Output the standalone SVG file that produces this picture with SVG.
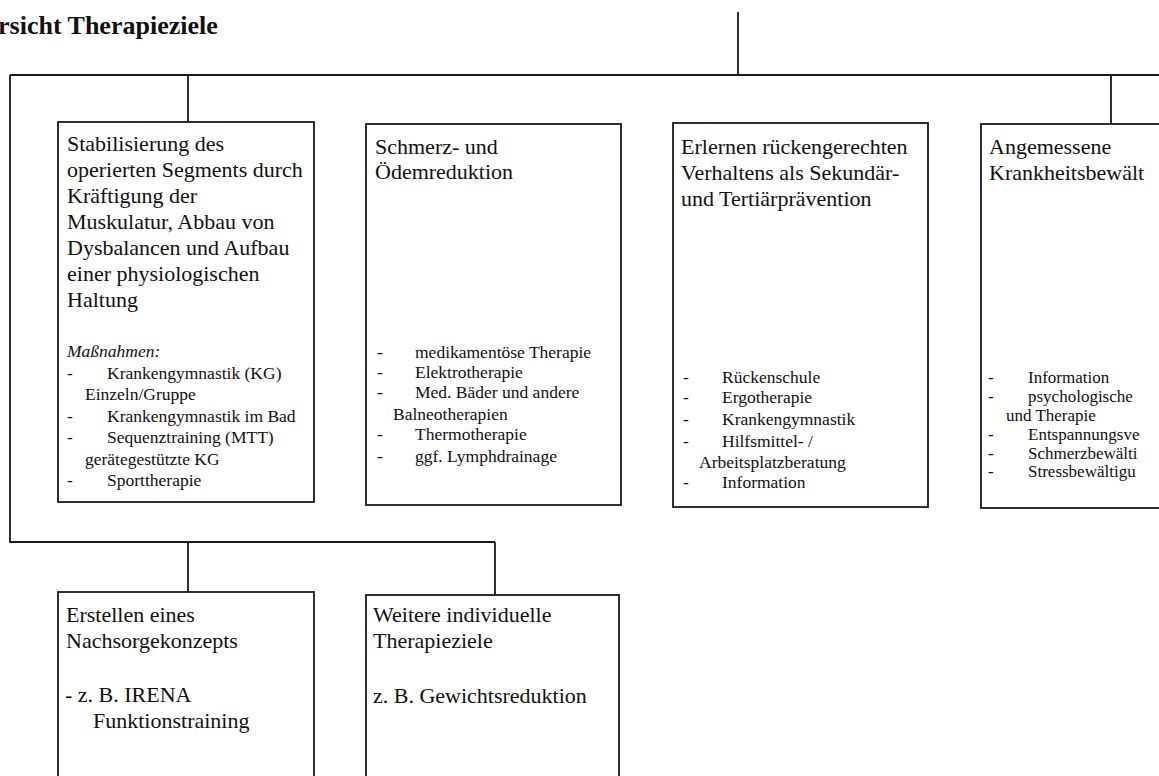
<svg xmlns="http://www.w3.org/2000/svg" width="1159" height="776" viewBox="0 0 1159 776">
<style>
.bg{fill:#fff}
.box{fill:#fff;stroke:#1a1a1a;stroke-width:1.8}
.ln{fill:none;stroke:#1a1a1a;stroke-width:1.8}
text{font-family:"Liberation Serif","Times New Roman",serif;fill:#111}
.title{font-size:26px;font-weight:bold}
.h{font-size:22px}
.i{font-size:17.5px}
.s{font-size:17px}
.it{font-size:17.5px;font-style:italic}
</style>
<rect class="bg" x="0" y="0" width="1159" height="776"/>
<text class="title" x="-2" y="34">rsicht Therapieziele</text>
<g id="connectors">
<path class="ln" d="M738 12 V75"/>
<path class="ln" d="M10 75 H1165"/>
<path class="ln" d="M10 75 V542 H495"/>
<path class="ln" d="M188 75 V122"/>
<path class="ln" d="M1111 75 V124"/>
<path class="ln" d="M188 542 V592"/>
<path class="ln" d="M495 542 V595"/>
</g>
<g id="node1">
<rect class="box" x="58" y="122" width="256" height="380"/>
<text class="h" x="67" y="151">Stabilisierung des</text>
<text class="h" x="67" y="177">operierten Segments durch</text>
<text class="h" x="67" y="203">Kräftigung der</text>
<text class="h" x="67" y="229">Muskulatur, Abbau von</text>
<text class="h" x="67" y="255">Dysbalancen und Aufbau</text>
<text class="h" x="67" y="281">einer physiologischen</text>
<text class="h" x="67" y="307">Haltung</text>
<text class="it" x="67" y="357">Maßnahmen:</text>
<text class="i" x="67" y="379">-</text><text class="i" x="107" y="379">Krankengymnastik (KG)</text>
<text class="i" x="85" y="400">Einzeln/Gruppe</text>
<text class="i" x="67" y="422">-</text><text class="i" x="107" y="422">Krankengymnastik im Bad</text>
<text class="i" x="67" y="443">-</text><text class="i" x="107" y="443">Sequenztraining (MTT)</text>
<text class="i" x="85" y="465">gerätegestützte KG</text>
<text class="i" x="67" y="486">-</text><text class="i" x="107" y="486">Sporttherapie</text>
</g>
<g id="node2">
<rect class="box" x="366" y="124" width="255" height="381"/>
<text class="h" x="375" y="154">Schmerz- und</text>
<text class="h" x="375" y="179">Ödemreduktion</text>
<text class="i" x="377" y="358">-</text><text class="i" x="415" y="358">medikamentöse Therapie</text>
<text class="i" x="377" y="378">-</text><text class="i" x="415" y="378">Elektrotherapie</text>
<text class="i" x="377" y="398">-</text><text class="i" x="415" y="398">Med. Bäder und andere</text>
<text class="i" x="393" y="420">Balneotherapien</text>
<text class="i" x="377" y="440">-</text><text class="i" x="415" y="440">Thermotherapie</text>
<text class="i" x="377" y="462">-</text><text class="i" x="415" y="462">ggf. Lymphdrainage</text>
</g>
<g id="node3">
<rect class="box" x="673" y="123" width="255" height="384"/>
<text class="h" x="681" y="154">Erlernen rückengerechten</text>
<text class="h" x="681" y="180">Verhaltens als Sekundär-</text>
<text class="h" x="681" y="206">und Tertiärprävention</text>
<text class="i" x="683" y="383">-</text><text class="i" x="722" y="383">Rückenschule</text>
<text class="i" x="683" y="403">-</text><text class="i" x="722" y="403">Ergotherapie</text>
<text class="i" x="683" y="425">-</text><text class="i" x="722" y="425">Krankengymnastik</text>
<text class="i" x="683" y="447">-</text><text class="i" x="722" y="447">Hilfsmittel- /</text>
<text class="i" x="699" y="468">Arbeitsplatzberatung</text>
<text class="i" x="683" y="488">-</text><text class="i" x="722" y="488">Information</text>
</g>
<g id="node4">
<rect class="box" x="981" y="124" width="200" height="384"/>
<text class="h" x="989" y="154">Angemessene</text>
<text class="h" x="989" y="180">Krankheitsbewält</text>
<text class="s" x="988" y="383">-</text><text class="s" x="1028" y="383">Information</text>
<text class="s" x="988" y="402">-</text><text class="s" x="1028" y="402">psychologische</text>
<text class="s" x="1006" y="421">und Therapie</text>
<text class="s" x="988" y="440">-</text><text class="s" x="1028" y="440">Entspannungsve</text>
<text class="s" x="988" y="459">-</text><text class="s" x="1028" y="459">Schmerzbewälti</text>
<text class="s" x="988" y="477">-</text><text class="s" x="1028" y="477">Stressbewältigu</text>
</g>
<g id="node5">
<rect class="box" x="58" y="592" width="256" height="200"/>
<text class="h" x="66" y="622">Erstellen eines</text>
<text class="h" x="66" y="648">Nachsorgekonzepts</text>
<text class="h" x="65" y="702">- z. B. IRENA</text>
<text class="h" x="93" y="728">Funktionstraining</text>
</g>
<g id="node6">
<rect class="box" x="366" y="595" width="253" height="200"/>
<text class="h" x="373" y="622">Weitere individuelle</text>
<text class="h" x="373" y="648">Therapieziele</text>
<text class="h" x="373" y="703">z. B. Gewichtsreduktion</text>
</g>
</svg>
